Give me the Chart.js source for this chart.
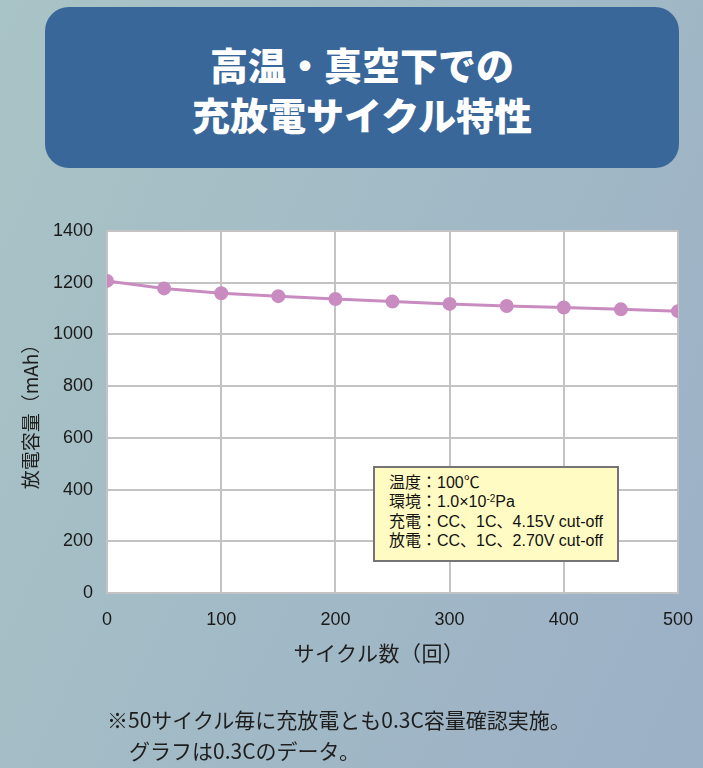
<!DOCTYPE html>
<html lang="ja">
<head>
<meta charset="utf-8">
<title>高温・真空下での充放電サイクル特性</title>
<script src="https://cdn.jsdelivr.net/npm/chart.js@4.4.1/dist/chart.umd.min.js"></script>
<style>
  html, body { margin: 0; padding: 0; }
  body {
    width: 703px; height: 768px; position: relative; overflow: hidden;
    background: linear-gradient(115deg, #a9c4c6 0%, #a2bac6 50%, #9cb0c6 100%);
    font-family: "Noto Sans CJK JP", sans-serif;
  }
  #titleBox {
    position: absolute; left: 45px; top: 7px; width: 634px; height: 161px;
    background: #39679a; border-radius: 24px;
    color: #fff; font-weight: 900; font-size: 38px; line-height: 50px;
    text-align: center; box-sizing: border-box; padding-top: 32px;
  }
  #chart { position: absolute; left: 0; top: 0; }
  #note {
    position: absolute; left: 373px; top: 466px; width: 246px; height: 96px;
    box-sizing: border-box; background: #fffbc3; border: 2px solid #747474;
    font-family: "Liberation Sans", "Noto Sans CJK JP", sans-serif;
    font-size: 16px; color: #111; padding: 5px 0 0 14px; line-height: 19.3px;
    white-space: nowrap;
  }
  #note sup { font-size: 10px; vertical-align: 5px; line-height: 0; }
  #xTitle {
    position: absolute; left: 259px; top: 637px; width: 240px; text-align: center;
    font-size: 21px; letter-spacing: 0.5px; color: #1e1e1e;
  }
  #foot {
    position: absolute; left: 107px; top: 704px; font-size: 21px; color: #1e1e1e;
    line-height: 31px; letter-spacing: 0;
  }
  #foot span { padding-left: 22px; }
</style>
</head>
<body>
<div id="titleBox">高温・真空下での<br>充放電サイクル特性</div>
<canvas id="chart" width="703" height="768"></canvas>
<div id="note">
  温度：100℃<br>
  環境：1.0×10<sup>-2</sup>Pa<br>
  充電：CC、1C、4.15V cut-off<br>
  放電：CC、1C、2.70V cut-off
</div>
<div id="xTitle">サイクル数（回）</div>
<div id="foot">※50サイクル毎に充放電とも0.3C容量確認実施。<br><span>グラフは0.3Cのデータ。</span></div>
<script>
// cycle count and 0.3C discharge capacity (mAh)
const cycles = [0, 50, 100, 150, 200, 250, 300, 350, 400, 450, 500];
const capacity = [1207, 1178, 1159, 1148, 1137, 1127, 1118, 1110, 1104, 1097, 1090];
const yTicks = [0, 200, 400, 600, 800, 1000, 1200, 1400];
const xTicks = [0, 100, 200, 300, 400, 500];

const gridColor = '#c3c3c3';
const lineColor = '#c98cc0';

// white plot area behind the grid
const plotBg = {
    id: 'plotBg',
    beforeDraw(chart) {
        const { ctx, chartArea: a } = chart;
        ctx.save();
        ctx.fillStyle = '#ffffff';
        ctx.fillRect(a.left, a.top, a.right - a.left, a.bottom - a.top);
        ctx.restore();
    }
};

new Chart(document.getElementById('chart'), {
    type: 'line',
    data: {
        datasets: [{
            label: '放電容量',
            data: cycles.map((c, i) => ({ x: c, y: capacity[i] })),
            borderColor: lineColor,
            backgroundColor: lineColor,
            borderWidth: 3,
            pointRadius: 5.5,
            pointHoverRadius: 5.5,
            tension: 0
        }]
    },
    options: {
        responsive: false,
        animation: false,
        events: [],
        layout: { padding: { left: 0, top: 231, right: 25, bottom: 135 } },
        plugins: { legend: { display: false }, tooltip: { enabled: false } },
        scales: {
            x: {
                type: 'linear',
                min: xTicks[0],
                max: xTicks[xTicks.length - 1],
                afterBuildTicks: s => { s.ticks = xTicks.map(v => ({ value: v })); },
                // fixed height, and keep the edge labels from squeezing the plot
                afterFit: s => { s.height = 40; s.paddingLeft = 0; s.paddingRight = 0; },
                grid: { color: gridColor, lineWidth: 2, drawTicks: false },
                border: { color: gridColor, width: 2 },
                ticks: {
                    padding: 16,
                    color: '#1a1a1a',
                    font: { family: 'Liberation Sans', size: 18 },
                    callback: v => String(v)
                }
            },
            y: {
                min: yTicks[0],
                max: yTicks[yTicks.length - 1],
                afterBuildTicks: s => { s.ticks = yTicks.map(v => ({ value: v })); },
                afterFit: s => { s.width = 107; },
                grid: { color: gridColor, lineWidth: 2, drawTicks: false },
                border: { color: gridColor, width: 2 },
                ticks: {
                    padding: 14,
                    color: '#1a1a1a',
                    font: { family: 'Liberation Sans', size: 18 },
                    callback: v => String(v)
                },
                title: {
                    display: true,
                    text: '放電容量（mAh）',
                    color: '#1e1e1e',
                    padding: { top: 19, bottom: 0 },
                    font: { family: 'Noto Sans CJK JP', size: 19 }
                }
            }
        }
    },
    plugins: [plotBg]
});
</script>
</body>
</html>
